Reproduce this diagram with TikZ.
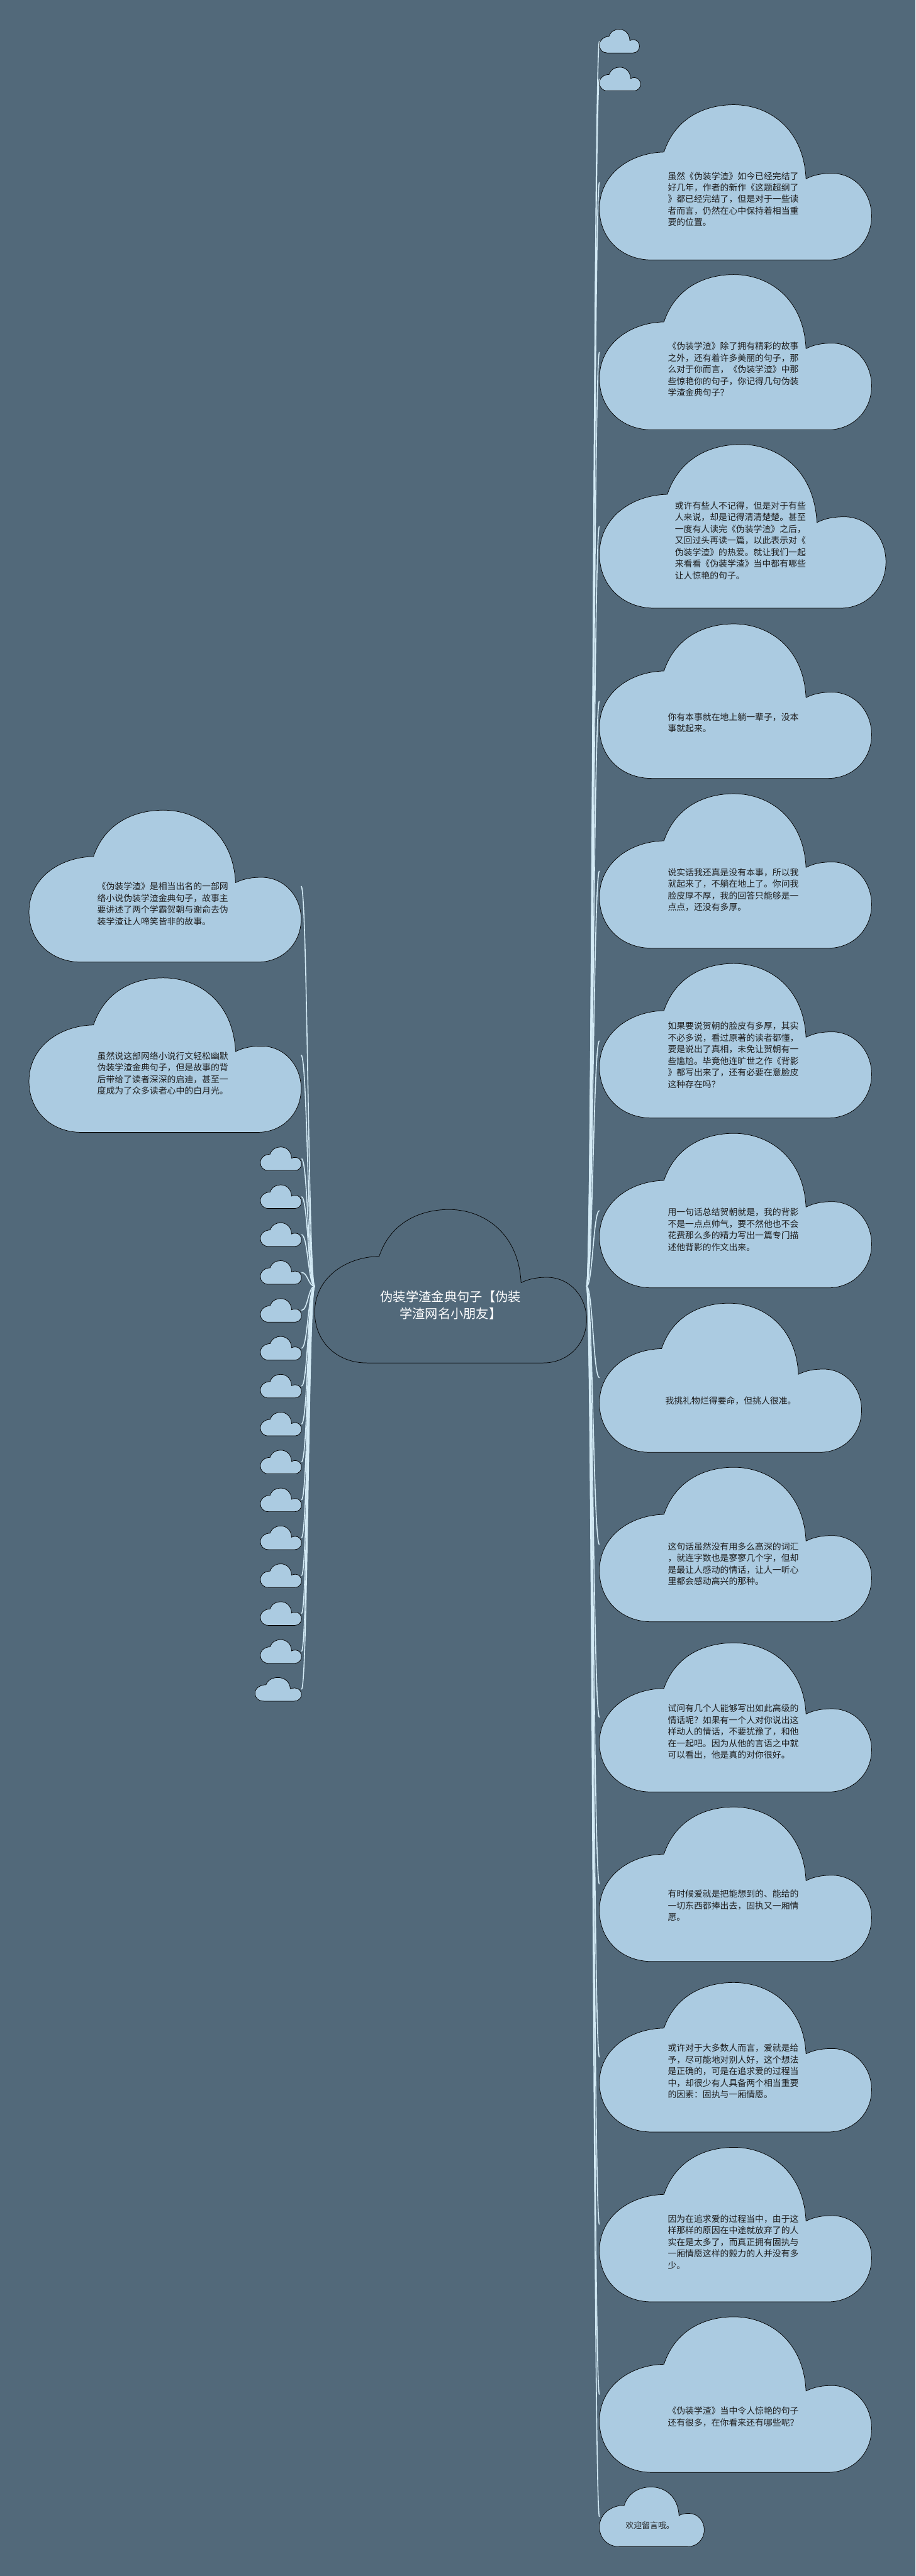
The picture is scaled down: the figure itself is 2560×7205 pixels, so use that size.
\documentclass[tikz,border=0pt]{standalone}
\usepackage{fontspec}
\newfontfamily\cjk{Noto Sans CJK SC}
\usetikzlibrary{calc}
\definecolor{board}{HTML}{52697A}
\definecolor{sky}{HTML}{ABCBE1}
\definecolor{wire}{HTML}{D3EAF5}
\definecolor{ink}{HTML}{1E1E1E}

% cloud outline drawn inside the box of a named node
\newcommand{\cloudat}[2][sky]{%
  \begin{scope}[shift={(#2.south west)},
      x={($(#2.south east)-(#2.south west)$)},
      y={($(#2.north west)-(#2.south west)$)}]
    \filldraw[fill=#1, draw=black, line width=1.3bp]
      (0.192,0) .. controls (0.08,0) and (0,0.14) .. (0,0.33)
      .. controls (0,0.55) and (0.11,0.69) .. (0.237,0.695)
      .. controls (0.28,0.92) and (0.39,1) .. (0.494,1)
      .. controls (0.62,1) and (0.75,0.85) .. (0.759,0.523)
      .. controls (0.79,0.55) and (0.82,0.558) .. (0.856,0.558)
      .. controls (0.94,0.556) and (1,0.43) .. (1,0.283)
      .. controls (1,0.12) and (0.93,0) .. (0.841,0) -- cycle;
  \end{scope}}

\begin{document}
\begin{tikzpicture}[
  x=1bp, y=-1bp,
  cloudbox/.style={inner sep=0pt, outer sep=0pt, anchor=north west,
    minimum width=761bp, minimum height=432bp},
  smallcloud/.style={cloudbox, minimum width=115bp, minimum height=66bp},
  cloudtext/.style={font=\cjk\fontsize{24.4bp}{32.5bp}\selectfont, text=ink,
    align=left, inner sep=0pt, anchor=west},
  roottext/.style={font=\cjk\fontsize{35.7bp}{47bp}\selectfont, text=white,
    align=center, inner sep=0pt},
  link/.style={draw=wire, line width=2.8bp}
]
\fill[board] (0,0) rectangle (2560,7205);
\useasboundingbox (0,0) rectangle (2560,7205);

% --- boxes of the clouds
\node[cloudbox, minimum width=760bp, minimum height=429bp] (root) at (880,3383) {};

\node[smallcloud, minimum width=112bp] (r1) at (1676,82) {};
\node[smallcloud] (r2) at (1676,188) {};
\node[cloudbox, minimum height=434bp] (r3) at (1676,293) {};
\node[cloudbox, minimum height=434bp] (r4) at (1676,768) {};
\node[cloudbox, minimum width=801bp, minimum height=458bp] (r5) at (1676,1243) {};
\node[cloudbox] (r6) at (1676,1745) {};
\node[cloudbox] (r7) at (1676,2220) {};
\node[cloudbox] (r8) at (1676,2695) {};
\node[cloudbox] (r9) at (1676,3170) {};
\node[cloudbox, minimum width=733bp, minimum height=417bp] (r10) at (1676,3645) {};
\node[cloudbox] (r11) at (1676,4104) {};
\node[cloudbox, minimum height=417bp] (r12) at (1676,4595) {};
\node[cloudbox] (r13) at (1676,5054) {};
\node[cloudbox, minimum height=418bp] (r14) at (1676,5545) {};
\node[cloudbox] (r15) at (1676,6006) {};
\node[cloudbox, minimum height=435bp] (r16) at (1676,6480) {};
\node[cloudbox, minimum width=293bp, minimum height=167bp] (r17) at (1676,6956) {};

\node[cloudbox, minimum height=425bp] (l1) at (81,2266) {};
\node[cloudbox] (l2) at (81,2735) {};
\foreach \k in {0,...,13}
  \node[smallcloud] (s\k) at (728,{3208+106*\k}) {};
\node[smallcloud, minimum width=130bp] (s14) at (713,4692) {};

% --- connectors
\foreach \i in {1,...,17}
  \draw[link] (root.east) .. controls +(17,0) and +(-17,0) .. (r\i.west);
\foreach \c in {l1,l2,s0,s1,s2,s3,s4,s5,s6,s7,s8,s9,s10,s11,s12,s13,s14}
  \draw[link] (root.west) .. controls +(-18,0) and +(18,0) .. (\c.east);

% --- clouds
\cloudat[board]{root}
\foreach \i in {1,...,17} {\cloudat{r\i}}
\foreach \c in {l1,l2,s0,s1,s2,s3,s4,s5,s6,s7,s8,s9,s10,s11,s12,s13,s14} {\cloudat{\c}}

% --- texts
\node[roottext] (roott) at (1260,3650) {伪装学渣金典句子【伪装\\学渣网名小朋友】};

\node[cloudtext] (r3t) at (1867,557) {虽然《伪装学渣》如今已经完结了\\好几年，作者的新作《这题超纲了\\》都已经完结了，但是对于一些读\\者而言，仍然在心中保持着相当重\\要的位置。};
\node[cloudtext] (r4t) at (1867,1033) {《伪装学渣》除了拥有精彩的故事\\之外，还有着许多美丽的句子，那\\么对于你而言，《伪装学渣》中那\\些惊艳你的句子，你记得几句伪装\\学渣金典句子？};
\node[cloudtext] (r5t) at (1887,1512) {或许有些人不记得，但是对于有些\\人来说，却是记得清清楚楚。甚至\\一度有人读完《伪装学渣》之后，\\又回过头再读一篇，以此表示对《\\伪装学渣》的热爱。就让我们一起\\来看看《伪装学渣》当中都有哪些\\让人惊艳的句子。};
\node[cloudtext] (r6t) at (1867,2022) {你有本事就在地上躺一辈子，没本\\事就起来。};
\node[cloudtext] (r7t) at (1867,2489) {说实话我还真是没有本事，所以我\\就起来了，不躺在地上了。你问我\\脸皮厚不厚，我的回答只能够是一\\点点，还没有多厚。};
\node[cloudtext] (r8t) at (1867,2951) {如果要说贺朝的脸皮有多厚，其实\\不必多说，看过原著的读者都懂，\\要是说出了真相，未免让贺朝有一\\些尴尬。毕竟他连旷世之作《背影\\》都写出来了，还有必要在意脸皮\\这种存在吗？};
\node[cloudtext] (r9t) at (1867,3439) {用一句话总结贺朝就是，我的背影\\不是一点点帅气，要不然他也不会\\花费那么多的精力写出一篇专门描\\述他背影的作文出来。};
\node[cloudtext] (r10t) at (1860,3918) {我挑礼物烂得要命，但挑人很准。};
\node[cloudtext] (r11t) at (1867,4374) {这句话虽然没有用多么高深的词汇\\，就连字数也是寥寥几个字，但却\\是最让人感动的情话，让人一听心\\里都会感动高兴的那种。};
\node[cloudtext] (r12t) at (1867,4844) {试问有几个人能够写出如此高级的\\情话呢？如果有一个人对你说出这\\样动人的情话，不要犹豫了，和他\\在一起吧。因为从他的言语之中就\\可以看出，他是真的对你很好。};
\node[cloudtext] (r13t) at (1867,5330) {有时候爱就是把能想到的、能给的\\一切东西都捧出去，固执又一厢情\\愿。};
\node[cloudtext] (r14t) at (1867,5793) {或许对于大多数人而言，爱就是给\\予，尽可能地对别人好，这个想法\\是正确的，可是在追求爱的过程当\\中，却很少有人具备两个相当重要\\的因素：固执与一厢情愿。};
\node[cloudtext] (r15t) at (1867,6271) {因为在追求爱的过程当中，由于这\\样那样的原因在中途就放弃了的人\\实在是太多了，而真正拥有固执与\\一厢情愿这样的毅力的人并没有多\\少。};
\node[cloudtext] (r16t) at (1867,6760) {《伪装学渣》当中令人惊艳的句子\\还有很多，在你看来还有哪些呢？};
\node[cloudtext, font=\cjk\fontsize{22.7bp}{30bp}\selectfont] (r17t) at (1749,7064) {欢迎留言哦。};

\node[cloudtext] (l1t) at (272,2528) {《伪装学渣》是相当出名的一部网\\络小说伪装学渣金典句子，故事主\\要讲述了两个学霸贺朝与谢俞去伪\\装学渣让人啼笑皆非的故事。};
\node[cloudtext] (l2t) at (272,3002) {虽然说这部网络小说行文轻松幽默\\伪装学渣金典句子，但是故事的背\\后带给了读者深深的启迪，甚至一\\度成为了众多读者心中的白月光。};
\end{tikzpicture}
\end{document}
